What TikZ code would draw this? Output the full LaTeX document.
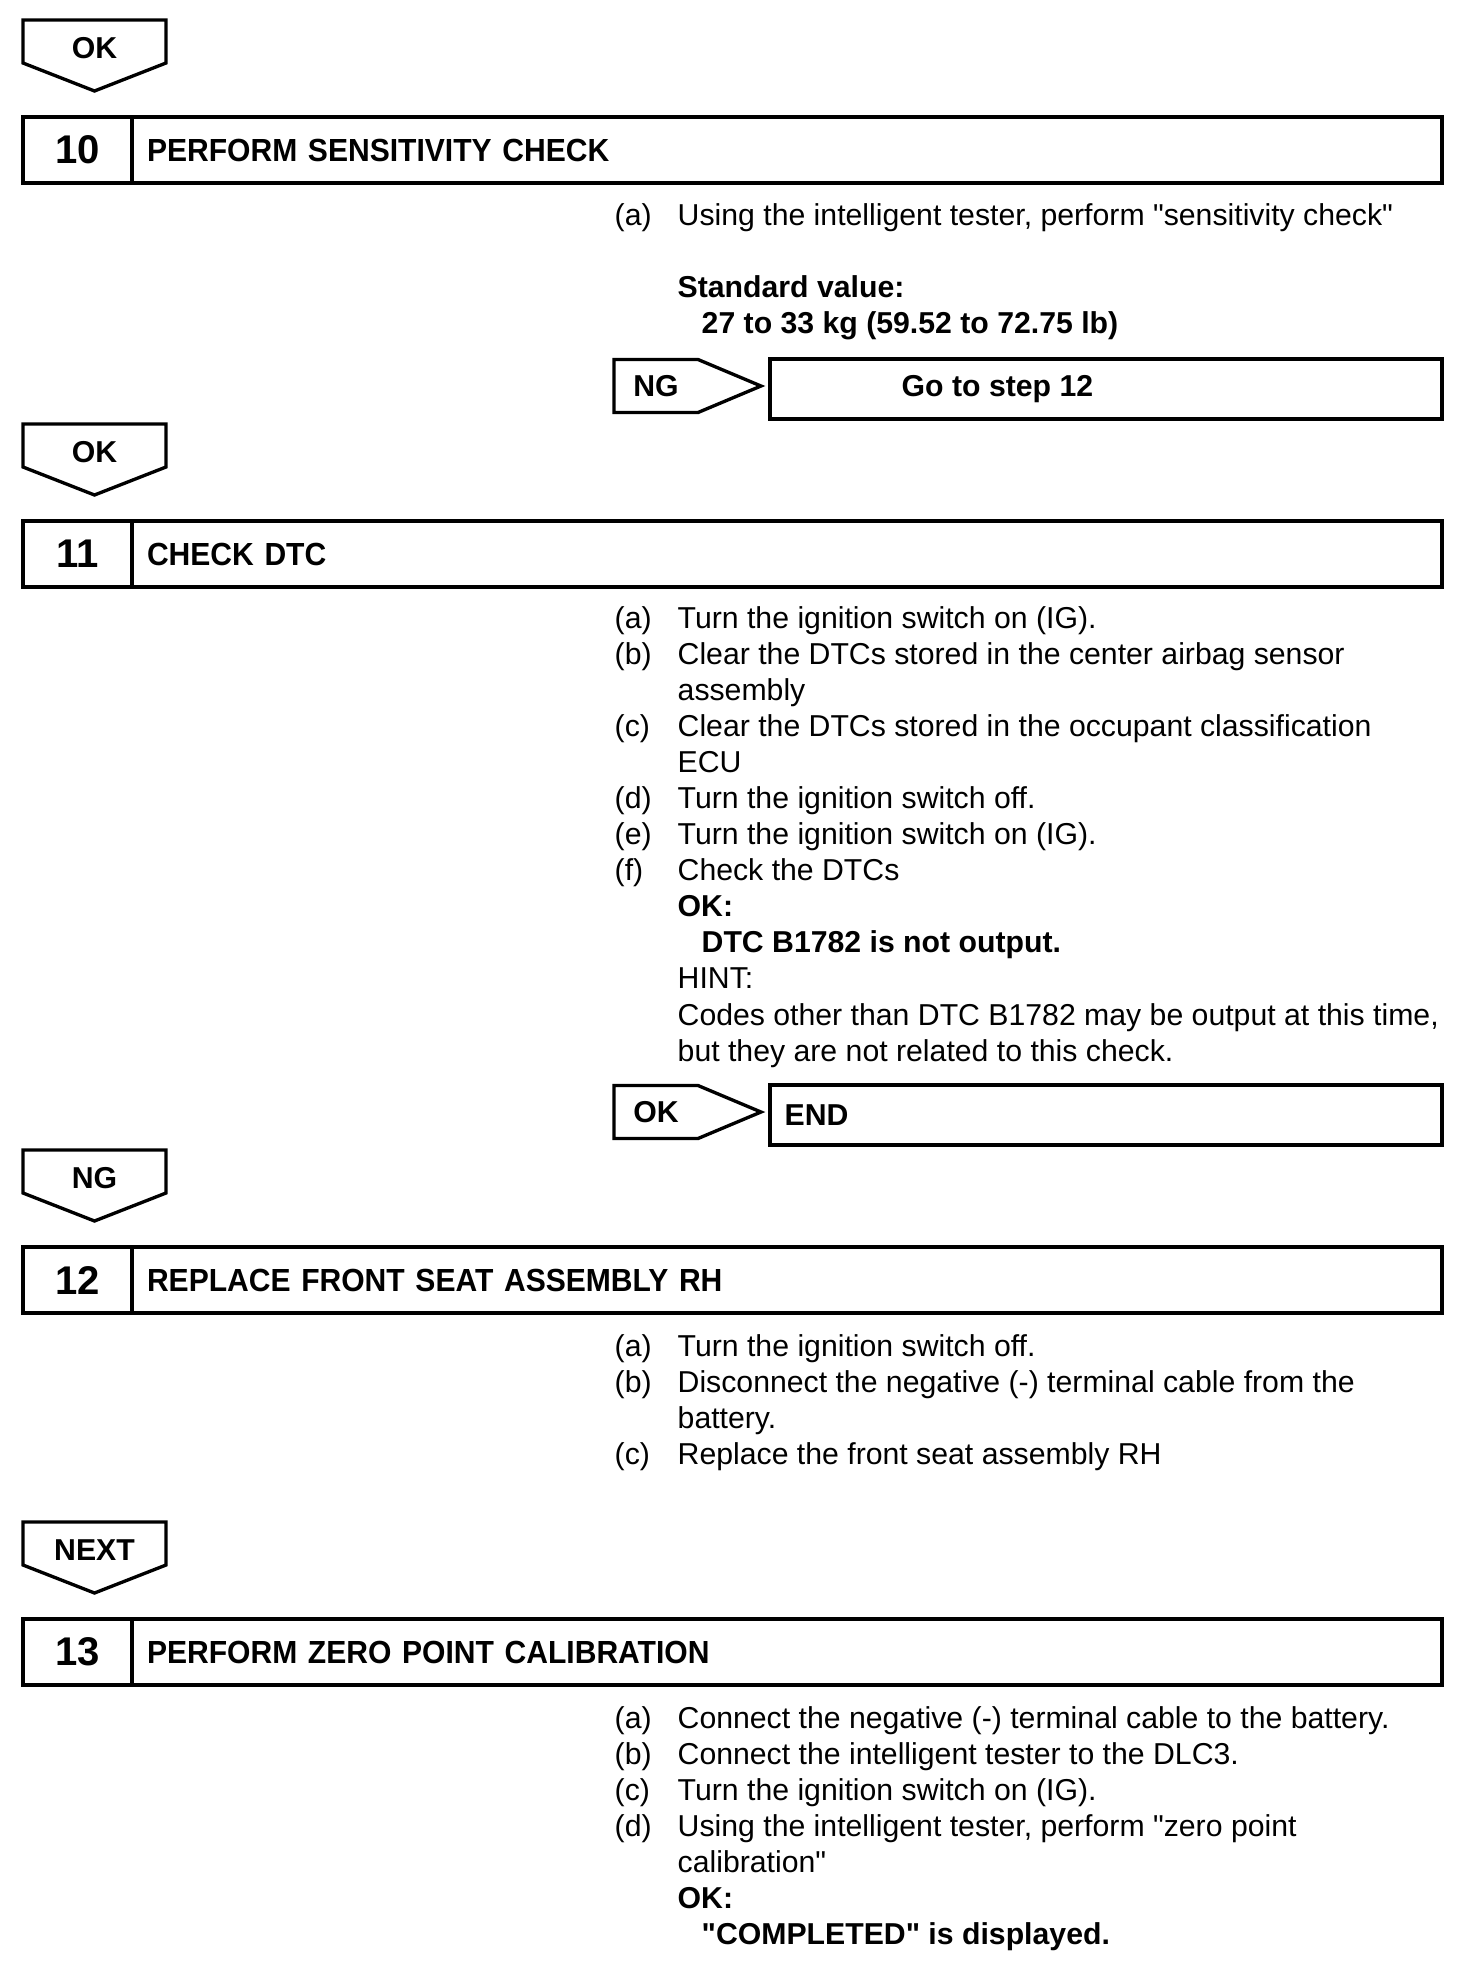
\documentclass[tikz,border=0pt]{standalone}
\usepackage{fontspec}
\setmainfont{Liberation Sans}[Ligatures=TeXOff]
\newfontfamily\headfont[FakeStretch=0.94,Ligatures=TeXOff]{Liberation Sans}
\usetikzlibrary{positioning}

\newcommand{\bodysize}{\fontsize{8.6}{10.27}\selectfont}

\begin{document}
\begin{tikzpicture}[
  x=0.1mm, y=-0.1mm,
  outl/.style={line width=1.1pt, line join=miter},
  tagl/.style={line width=0.95pt, line join=miter},
  tagdn/.style={inner sep=0pt, outer sep=0pt, minimum width=14.3mm,
                minimum height=4.3mm, text height=3.4mm, text depth=0pt,
                font=\bodysize\bfseries},
  tagrt/.style={inner sep=0pt, outer sep=0pt, minimum width=8.4mm,
                minimum height=5.3mm, font=\bodysize\bfseries},
  numcell/.style={draw, outl, inner sep=0pt, outer sep=0pt,
                  minimum width=10.9mm, minimum height=6.6mm,
                  font=\fontsize{11.4}{13}\selectfont\bfseries},
  ttlcell/.style={draw, outl, inner xsep=1.5mm, inner ysep=0pt, outer sep=0pt,
                  minimum width=131mm, minimum height=6.6mm, text width=128mm,
                  align=left, font=\headfont\fontsize{9.1}{11}\selectfont\bfseries},
  resbox/.style={draw, outl, inner sep=0pt, outer sep=0pt,
                 minimum width=67.2mm, minimum height=6mm},
  restxt/.style={inner sep=0pt, font=\bodysize\bfseries},
  items/.style={anchor=base west, inner sep=0pt, font=\bodysize}]

\useasboundingbox (0,0) rectangle (1472,1972);

% OK -> step 10
\node[tagdn] (ok1) at (94.5,41.5) {OK};
\draw[tagl] (ok1.north west) -- (ok1.north east) -- (ok1.south east)
  -- ([yshift=-2.8mm]ok1.south) -- (ok1.south west) -- cycle;

\node[numcell]                  (n10) at (77.5,150) {10};
\node[ttlcell, right=0pt of n10] (t10) {PERFORM SENSITIVITY CHECK};

\node[items] (s10) at (614,225) {\begin{tabular}[t]{@{}p{6.3mm}@{}l@{}}
(a) & Using the intelligent tester, perform "sensitivity check"\\
    & \\
    & \textbf{Standard value:}\\
    & \hspace*{2.4mm}\textbf{27 to 33 kg (59.52 to 72.75 lb)}
\end{tabular}};

% NG branch of step 10
\node[tagrt] (ng10) at (656,386) {NG};
\draw[tagl] (ng10.north west) -- (ng10.north east) -- ([xshift=6.3mm]ng10.east)
  -- (ng10.south east) -- (ng10.south west) -- cycle;
\node[resbox] (go12) at (1106,389) {};
\node[restxt, right=13.1mm of go12.west] (go12t) {Go to step 12};

% OK -> step 11
\node[tagdn] (ok2) at (94.5,445.5) {OK};
\draw[tagl] (ok2.north west) -- (ok2.north east) -- (ok2.south east)
  -- ([yshift=-2.8mm]ok2.south) -- (ok2.south west) -- cycle;

\node[numcell]                  (n11) at (77.5,554) {11};
\node[ttlcell, right=0pt of n11] (t11) {CHECK DTC};

\node[items] (s11) at (614,628) {\begin{tabular}[t]{@{}p{6.3mm}@{}l@{}}
(a) & Turn the ignition switch on (IG).\\
(b) & Clear the DTCs stored in the center airbag sensor\\
    & assembly\\
(c) & Clear the DTCs stored in the occupant classification\\
    & ECU\\
(d) & Turn the ignition switch off.\\
(e) & Turn the ignition switch on (IG).\\
(f) & Check the DTCs\\
    & \textbf{OK:}\\
    & \hspace*{2.4mm}\textbf{DTC B1782 is not output.}\\
    & HINT:\\
    & Codes other than DTC B1782 may be output at this time,\\
    & but they are not related to this check.
\end{tabular}};

% OK branch of step 11
\node[tagrt] (ok11) at (656,1112) {OK};
\draw[tagl] (ok11.north west) -- (ok11.north east) -- ([xshift=6.3mm]ok11.east)
  -- (ok11.south east) -- (ok11.south west) -- cycle;
\node[resbox] (endb) at (1106,1115) {};
\node[restxt, right=1.4mm of endb.west] (endt) {END};

% NG -> step 12
\node[tagdn] (ng1) at (94.5,1171.5) {NG};
\draw[tagl] (ng1.north west) -- (ng1.north east) -- (ng1.south east)
  -- ([yshift=-2.8mm]ng1.south) -- (ng1.south west) -- cycle;

\node[numcell]                  (n12) at (77.5,1280) {12};
\node[ttlcell, right=0pt of n12] (t12) {REPLACE FRONT SEAT ASSEMBLY RH};

\node[items] (s12) at (614,1356) {\begin{tabular}[t]{@{}p{6.3mm}@{}l@{}}
(a) & Turn the ignition switch off.\\
(b) & Disconnect the negative (-) terminal cable from the\\
    & battery.\\
(c) & Replace the front seat assembly RH
\end{tabular}};

% NEXT -> step 13
\node[tagdn] (nx1) at (94.5,1543.5) {NEXT};
\draw[tagl] (nx1.north west) -- (nx1.north east) -- (nx1.south east)
  -- ([yshift=-2.8mm]nx1.south) -- (nx1.south west) -- cycle;

\node[numcell]                  (n13) at (77.5,1652) {13};
\node[ttlcell, right=0pt of n13] (t13) {PERFORM ZERO POINT CALIBRATION};

\node[items] (s13) at (614,1728) {\begin{tabular}[t]{@{}p{6.3mm}@{}l@{}}
(a) & Connect the negative (-) terminal cable to the battery.\\
(b) & Connect the intelligent tester to the DLC3.\\
(c) & Turn the ignition switch on (IG).\\
(d) & Using the intelligent tester, perform "zero point\\
    & calibration"\\
    & \textbf{OK:}\\
    & \hspace*{2.4mm}\textbf{"COMPLETED" is displayed.}
\end{tabular}};
\end{tikzpicture}
\end{document}
